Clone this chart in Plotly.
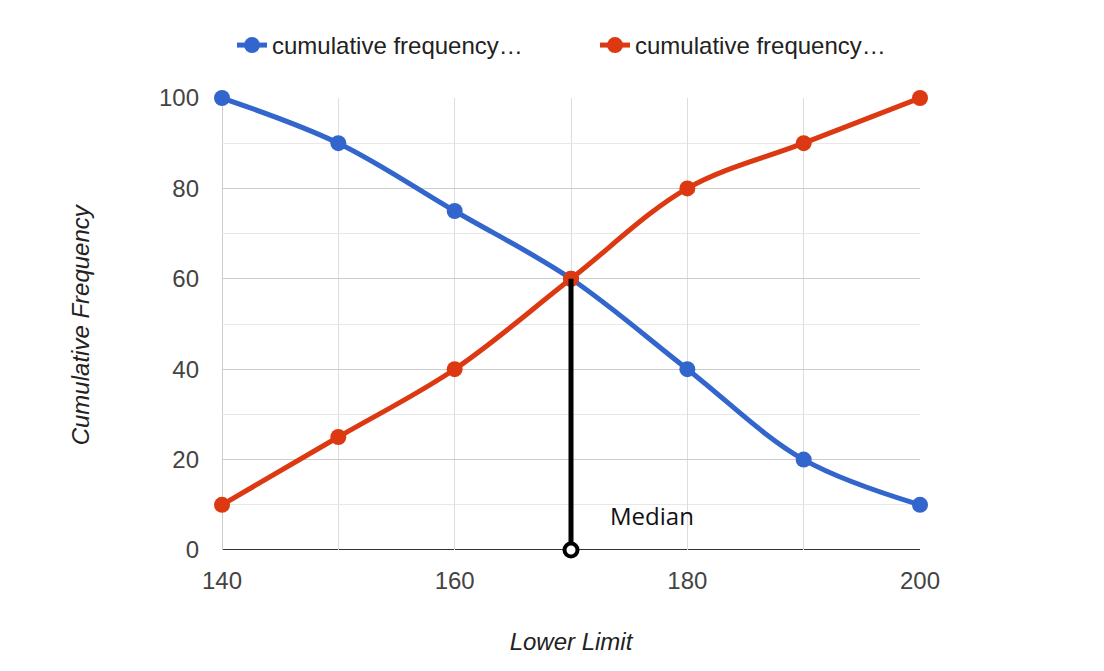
import plotly.graph_objects as go

lower_limit = [140, 150, 160, 170, 180, 190, 200]
more_than = [100, 90, 75, 60, 40, 20, 10]
less_than = [10, 25, 40, 60, 80, 90, 100]
legend_names = ["cumulative frequency…", "cumulative frequency…"]

median_x = [170, 170]
median_y = [60, 0]
median_label = "Median"

fig = go.Figure()

fig.add_trace(go.Scatter(
    x=lower_limit, y=more_than, name=legend_names[0],
    mode="lines+markers", legend="legend",
    line=dict(color="#3366CC", width=5, shape="spline", smoothing=1.0),
    marker=dict(size=16, color="#3366CC"),
    cliponaxis=False
))
fig.add_trace(go.Scatter(
    x=lower_limit, y=less_than, name=legend_names[1],
    mode="lines+markers", legend="legend2",
    line=dict(color="#DC3912", width=5, shape="spline", smoothing=1.0),
    marker=dict(size=16, color="#DC3912"),
    cliponaxis=False
))

# hand-drawn median line
fig.add_trace(go.Scatter(
    x=median_x, y=median_y, mode="lines",
    line=dict(color="black", width=5),
    showlegend=False, hoverinfo="skip", cliponaxis=False
))
fig.add_trace(go.Scatter(
    x=median_x[1:], y=median_y[1:], mode="markers",
    marker=dict(size=13, color="white", line=dict(color="black", width=4)),
    showlegend=False, hoverinfo="skip", cliponaxis=False
))
fig.add_annotation(
    x=177, y=7.7, text=median_label, showarrow=False,
    xanchor="center", yanchor="middle",
    font=dict(family="Open Sans", size=24, color="#111")
)

# y axis title as a rotated annotation (axis title standoff was unreliable here)
fig.add_annotation(
    xref="paper", yref="paper", x=-0.203, y=0.5,
    text="<i>Cumulative Frequency</i>", textangle=-90, showarrow=False,
    xanchor="center", yanchor="middle",
    font=dict(size=24, color="#222")
)

legend_style = dict(
    orientation="h", xref="container", y=1.166,
    xanchor="left", yanchor="top",
    font=dict(size=24, color="#222"),
)

# page body has an 8px margin, so the figure is a bit smaller than the window
fig.update_layout(
    width=1096, height=663,
    margin=dict(l=214, r=184, t=90, b=121, autoexpand=False),
    plot_bgcolor="white", paper_bgcolor="white",
    font=dict(family="Liberation Sans, Arial", size=24, color="#444"),
    legend=dict(x=0.2044, **legend_style),
    legend2=dict(x=0.5356, **legend_style),
    xaxis=dict(
        range=[140, 200], dtick=20, tick0=140,
        showgrid=True, gridcolor="#dddddd", gridwidth=1,
        minor=dict(dtick=10, showgrid=True, gridcolor="#dddddd"),
        zeroline=False, showline=False, ticks="",
        ticklabelstandoff=14,
        title=dict(text="<i>Lower Limit</i>", font=dict(size=24, color="#222"), standoff=40)
    ),
    yaxis=dict(
        range=[0, 100], dtick=20, tick0=0,
        showgrid=True, gridcolor="#cccccc", gridwidth=1,
        minor=dict(dtick=10, showgrid=True, gridcolor="#e8e8e8"),
        zeroline=False, showline=False, ticks="",
        ticklabelstandoff=22,
    ),
    shapes=[
        dict(type="line", xref="x", yref="y", x0=140, x1=200, y0=0, y1=0,
             line=dict(color="#333333", width=2), layer="below"),
        dict(type="line", xref="x", yref="y", x0=140, x1=140, y0=0, y1=100,
             line=dict(color="#cccccc", width=2), layer="below"),
    ]
)

fig.write_html("out.html")
